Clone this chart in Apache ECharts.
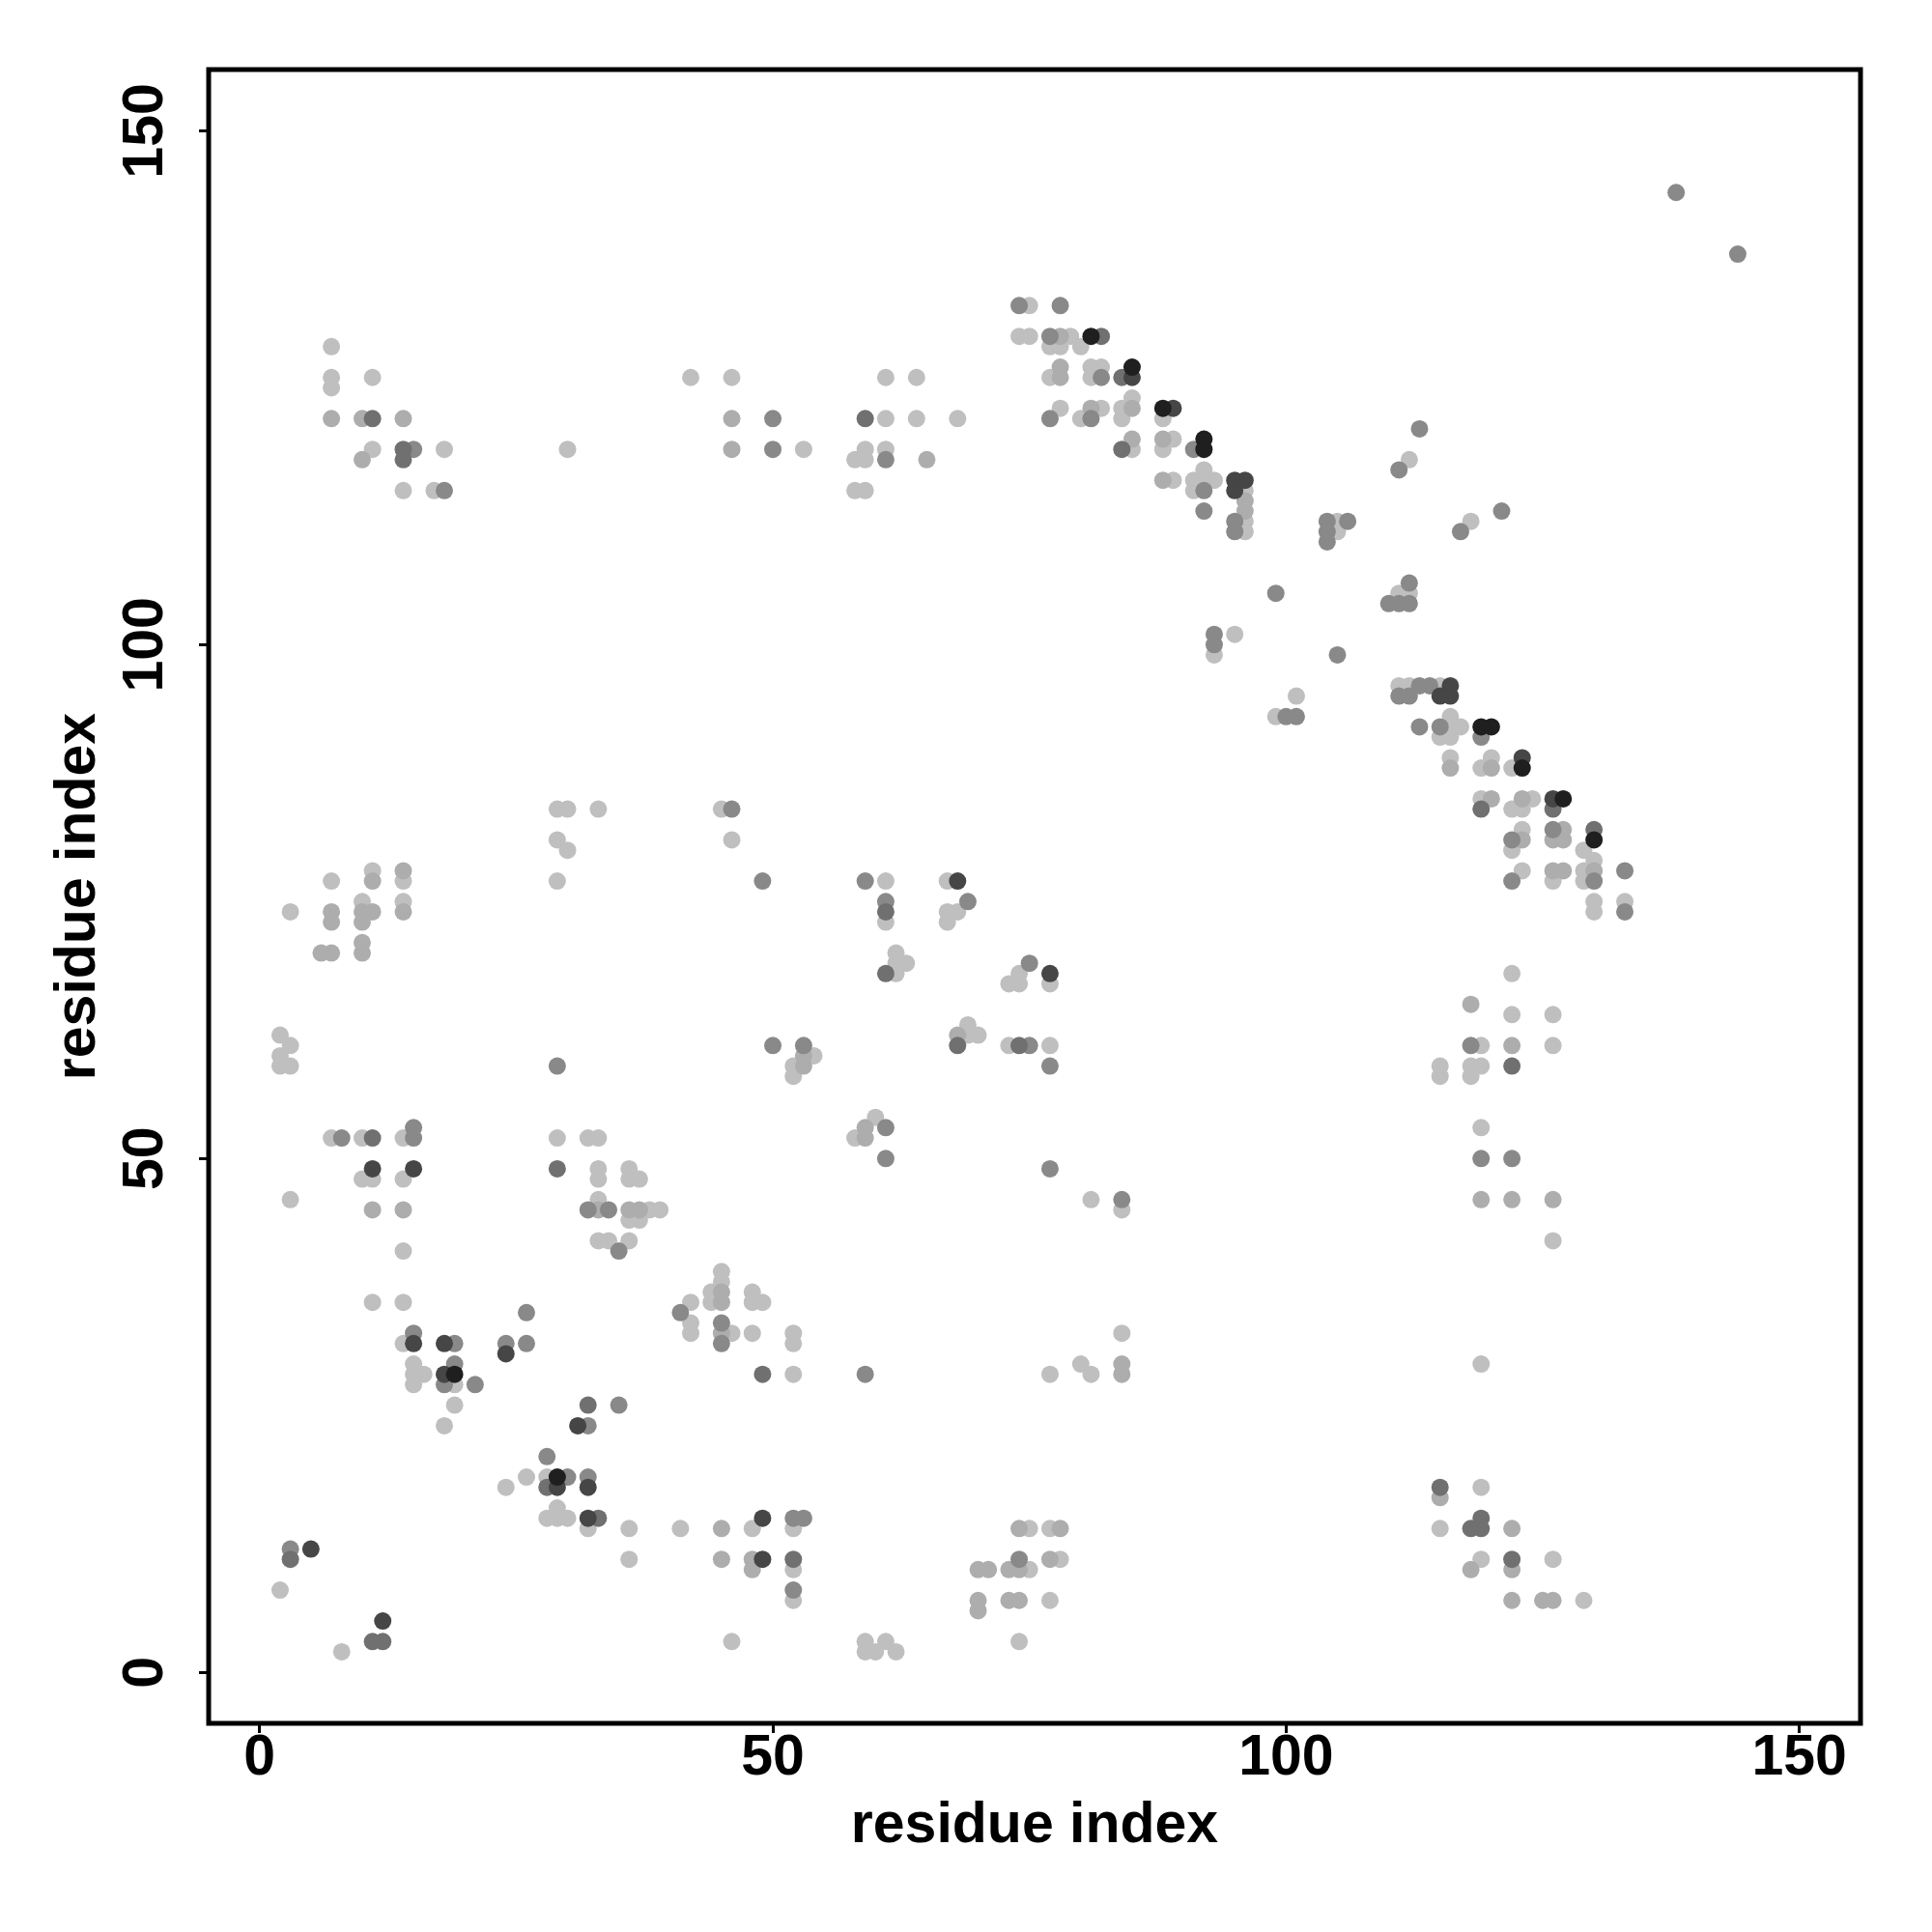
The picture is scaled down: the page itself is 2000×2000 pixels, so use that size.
<!DOCTYPE html>
<html>
<head>
<meta charset="utf-8">
<script src="https://cdn.jsdelivr.net/npm/echarts@6/dist/echarts.min.js"></script>
<style>
html,body{margin:0;padding:0;background:#fff;}
#chart{width:2000px;height:2000px;}
</style>
</head>
<body>
<div id="chart"></div>
<script>
// Tick labels
const xTicks = [0, 50, 100, 150];
const yTicks = [0, 50, 100, 150];

// Contact points [x, y] grouped by grey level
const lightPts = [
[7,129],[7,126],[7,125],[11,126],[11,119],[18,119],[14,115],[17,115],[30,119],[42,126],[46,126],
[53,119],[61,122],[61,126],[64,126],[64,122],[68,122],[59,119],[58,118],[59,118],[61,119],[58,115],[59,115],[75,133],[74,130],[75,130],[79,130],[77,129],[78,129],[80,129],[77,126],[81,127],[82,127],[81,126],[78,123],[80,122],[82,123],[84,123],[85,124],[84,122],[88,122],[85,119],[89,120],[88,119],[89,116],[91,116],[92,117],[92,116],[93,116],[91,115],[96,115],[96,112],[96,111],
[112,118],[105,112],[105,111],[118,112],[111,105],[112,105],
[29,84],[30,84],[33,84],[29,81],[30,80],[29,77],[45,84],[46,81],[7,77],[11,78],[14,77],[3,74],[10,75],[14,75],[2,62],[3,61],[2,60],[2,59],[3,59],[7,52],[10,52],[14,52],[29,52],[32,52],[33,52],[33,49],[36,49],
[10,48],[11,48],[14,48],[33,48],[36,48],[37,48],[3,46],[14,41],[33,46],[38,45],[39,45],[36,44],[37,44],[33,42],[34,42],[36,42],[11,36],[14,36],[14,32],[15,30],[15,29],[16,29],[15,28],[19,28],[19,26],[18,24],[24,18],[26,19],[28,19],[28,15],[29,16],[29,15],[30,15],[32,14],[36,14],[36,11],[41,14],[48,14],[2,8],[8,2],[46,3],[42,36],[42,34],[42,33],[44,37],[44,36],[45,39],[45,38],[46,33],[48,37],[48,36],[48,33],[49,36],
[81,46],[84,45],[52,33],[52,32],[52,29],[77,29],[80,30],[81,29],[84,33],[52,14],[52,10],[52,7],[59,3],[59,2],[60,2],[61,3],[62,2],[75,10],[77,7],[74,3],[75,14],[77,14],[78,11],
[126,42],[119,30],[119,18],[115,14],[119,11],[126,11],[129,7],
[93,99],[95,101],[101,95],[99,93],[61,77],[61,73],[67,77],[67,74],[68,74],[67,73],[62,70],[63,69],[62,68],[62,69],[74,68],[73,67],[74,67],[77,67],[54,60],[52,59],[52,58],[69,63],[69,62],[70,62],[73,61],[77,61],[58,52],[60,54],
[111,96],[112,96],[115,96],[116,93],[116,92],[117,92],[115,91],[116,91],[116,89],[119,88],[120,89],[122,88],[119,85],[122,84],[123,84],[124,85],[123,82],[122,80],[129,80],[130,79],[129,78],[129,77],[123,78],[126,77],[130,75],[130,74],[133,75],[122,68],[122,64],[126,64],[119,61],[126,61],[115,59],[115,58],[118,59],[119,59],[118,58],[119,53]
];
const lightMidPts = [
[7,122],[10,122],[14,122],[10,118],[46,122],[46,119],
[65,118],[78,130],[78,127],[78,126],[81,123],[85,123],[85,120],[88,120],[88,116],[96,114],[96,113],
[11,77],[14,78],[7,74],[7,73],[10,74],[11,74],[10,73],[14,74],[6,70],[7,70],[10,71],[10,70],
[11,45],[14,45],[33,45],[36,45],[37,45],[45,14],[45,11],[48,11],[48,10],[45,37],[45,36],[45,33],
[84,30],[84,29],[70,7],[70,6],[70,10],[71,10],[73,10],[74,10],[73,7],[74,7],[74,14],[78,14],[77,11],
[119,46],[122,46],[126,46],[115,17],[122,14],[118,10],[122,10],[122,7],[125,7],[126,7],
[53,60],[53,59],[68,62],[59,52],[59,53],
[116,88],[120,88],[120,85],[123,85],[123,81],[127,82],[126,81],[127,81],[130,78],[126,78],[127,78],[118,65],[122,61]
];
const midPts = [
[15,119],[18,115],
[50,122],[50,119],[61,118],[74,133],[78,133],[77,130],[82,126],[77,122],[81,122],[91,119],[92,115],[92,113],[95,112],[95,111],[99,105],
[138,144],[144,138],[113,121],[111,117],[104,112],[106,112],[104,111],[104,110],[117,111],[121,113],[112,106],[110,104],[111,104],[112,104],
[46,84],[49,77],[29,59],[8,52],[15,52],[15,53],
[32,45],[34,45],[35,41],[15,33],[19,32],[19,30],[18,28],[21,28],[24,32],[26,32],[26,35],[35,26],[32,24],[28,21],[30,19],[32,19],[3,12],[41,35],[45,34],[45,32],
[61,50],[77,49],[84,46],[59,29],[52,15],[53,15],[52,8],[74,11],
[93,101],[93,100],[100,93],[101,93],[59,77],[61,75],[69,75],[75,69],[50,61],[53,61],[75,61],[77,59],[61,53],
[105,99],[113,96],[114,96],[111,95],[112,95],[113,92],[115,92],[119,91],[122,81],[126,82],[130,77],[122,77],[133,78],[133,74],[118,61],[119,50],[122,50]
];
const darkMidPts = [
[11,122],[14,119],[14,118],
[59,122],[82,130],[84,126],[84,119],
[11,52],[29,49],
[32,26],[28,18],[33,15],[3,11],[11,3],[12,3],[49,29],
[52,11],
[115,18],[118,14],[119,15],[119,14],[122,11],
[61,74],[61,68],[68,61],[74,61],
[119,84],[126,84],[130,82],[122,59]
];
const darkPts = [
[85,126],[89,123],[95,116],[96,116],[95,115],
[11,49],[15,49],
[15,32],[18,32],[18,29],[24,31],[31,24],[29,18],[32,18],[32,15],[49,15],[49,11],[5,12],[12,5],
[68,77],[77,68],
[116,96],[115,95],[116,95],[123,89],[126,85]
];
const blackPts = [
[81,130],[85,127],[88,123],[92,120],[92,119],
[19,29],[29,19],
[119,92],[120,92],[123,88],[127,85],[130,81]
];

const levels = [
  {name:'light', data: lightPts, color:'#bfbfbf'},
  {name:'lightMid', data: lightMidPts, color:'#adadad'},
  {name:'mid', data: midPts, color:'#898989'},
  {name:'darkMid', data: darkMidPts, color:'#707070'},
  {name:'dark', data: darkPts, color:'#464646'},
  {name:'black', data: blackPts, color:'#1f1f1f'}
];

const FONT = '"Liberation Sans", Arial, Helvetica, sans-serif';
const chart = echarts.init(document.getElementById('chart'), null, {renderer:'canvas'});
chart.setOption({
  animation: false,
  backgroundColor: '#ffffff',
  grid: {left:216, top:72, width:1710, height:1712, show:true, borderColor:'#000', borderWidth:5, backgroundColor:'transparent'},
  xAxis: {
    type:'value', min:-4.96, max:155.96,
    axisLine:{show:false, onZero:false},
    splitLine:{show:false},
    axisTick:{show:true, customValues:xTicks, length:10, lineStyle:{width:3, color:'#000'}},
    axisLabel:{customValues:xTicks, fontSize:59, fontWeight:'bold', color:'#000', fontFamily:FONT, margin:7},
    name:'residue index', nameLocation:'middle', nameGap:77,
    nameTextStyle:{fontSize:59, fontWeight:'bold', color:'#000', fontFamily:FONT}
  },
  yAxis: {
    type:'value', min:-4.96, max:155.96,
    axisLine:{show:false, onZero:false},
    splitLine:{show:false},
    axisTick:{show:true, customValues:yTicks, length:10, lineStyle:{width:3, color:'#000'}},
    axisLabel:{customValues:yTicks, fontSize:59, fontWeight:'bold', color:'#000', fontFamily:FONT, rotate:90, margin:35},
    name:'residue index', nameLocation:'middle', nameGap:105,
    nameTextStyle:{fontSize:59, fontWeight:'bold', color:'#000', fontFamily:FONT}
  },
  series: levels.map(l => ({
    type:'scatter', name:l.name, data:l.data, symbol:'circle', symbolSize:18,
    itemStyle:{color:l.color, opacity:1}, silent:true, emphasis:{disabled:true}
  }))
});
</script>
</body>
</html>
